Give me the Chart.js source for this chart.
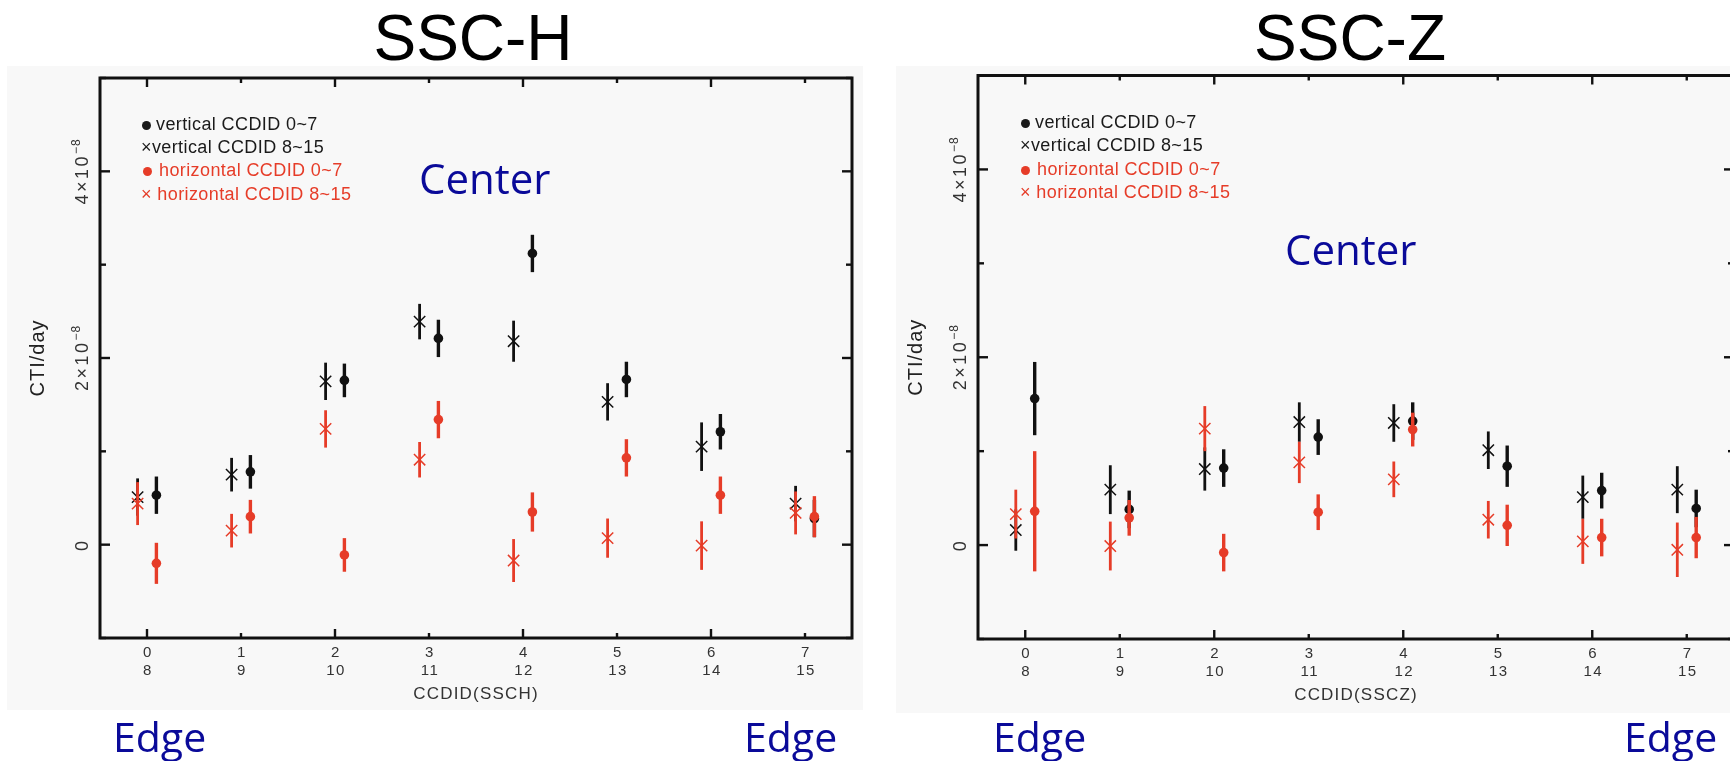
<!DOCTYPE html>
<html>
<head>
<meta charset="utf-8">
<script src="https://cdn.jsdelivr.net/npm/chart.js@4.4.1/dist/chart.umd.min.js"></script>
<style>
html, body { margin: 0; padding: 0; background: #fff; width: 1730px; height: 761px; overflow: hidden; position: relative; }
.panel { position: absolute; background: #f8f8f8; }
.panel canvas { position: absolute; left: 0; top: 0; }
.ttl { position: absolute; font-family: "Liberation Sans", Arial, sans-serif; font-size: 64px; line-height: 1; color: #000; transform: translateX(-50%); white-space: nowrap; }
.note { position: absolute; font-family: "Open Sans", sans-serif; line-height: 1; color: #0a0a99; white-space: nowrap; }
.leg { position: absolute; font-family: "Liberation Sans", Arial, sans-serif; font-size: 18px; line-height: 1; white-space: nowrap; letter-spacing: 0.4px; }
.dot { display: inline-block; width: 9px; height: 9px; border-radius: 50%; background: currentColor; margin-right: 5px; }
.blk { color: #1a1a1a; }
.red { color: #e63c28; }
</style>
</head>
<body>

<div class="ttl" style="left:473px; top:6px;">SSC-H</div>
<div class="ttl" style="left:1350px; top:6px;">SSC-Z</div>

<div class="panel" style="left:7px; top:66px; width:856px; height:644px;">
  <canvas id="chartH" width="856" height="644"></canvas>
</div>
<div class="panel" style="left:896px; top:66px; width:850px; height:647px;">
  <canvas id="chartZ" width="850" height="647"></canvas>
</div>

<!-- legends -->
<div class="leg blk" style="left:142px; top:115px;"><span class="dot"></span>vertical CCDID 0~7</div>
<div class="leg blk" style="left:141px; top:138px;">×vertical CCDID 8~15</div>
<div class="leg red" style="left:143px; top:161px;"><span class="dot" style="margin-right:7px"></span>horizontal CCDID 0~7</div>
<div class="leg red" style="left:141px; top:185px;">× horizontal CCDID 8~15</div>

<div class="leg blk" style="left:1021px; top:113px;"><span class="dot"></span>vertical CCDID 0~7</div>
<div class="leg blk" style="left:1020px; top:136px;">×vertical CCDID 8~15</div>
<div class="leg red" style="left:1021px; top:160px;"><span class="dot" style="margin-right:7px"></span>horizontal CCDID 0~7</div>
<div class="leg red" style="left:1020px; top:183px;">× horizontal CCDID 8~15</div>

<div class="note" style="left:419px; top:157px; font-size:42px;">Center</div>
<div class="note" style="left:1285px; top:228px; font-size:42px;">Center</div>
<div class="note" style="left:113px; top:716px; font-size:41px;">Edge</div>
<div class="note" style="left:744px; top:716px; font-size:41px;">Edge</div>
<div class="note" style="left:993px; top:716px; font-size:41px;">Edge</div>
<div class="note" style="left:1624px; top:716px; font-size:41px;">Edge</div>

<script>
// CCD pairs on the x axis (top row 0-7, bottom row 8-15)
const ccdPairs = [0, 1, 2, 3, 4, 5, 6, 7];
const xTickTop = ['0', '1', '2', '3', '4', '5', '6', '7'];
const xTickBottom = ['8', '9', '10', '11', '12', '13', '14', '15'];

// y axis in units of 1e-8 CTI/day
const yTickValues = [-1, 0, 1, 2, 3, 4, 5];
const yTickMain = ['', '0', '', '2×10', '', '4×10', ''];
const yTickExp = ['', '', '', '−8', '', '−8', ''];

// SSC-H
const hVert07 = [0.53, 0.78, 1.76, 2.21, 3.12, 1.77, 1.21, 0.28];
const hVert07Err = [0.20, 0.18, 0.18, 0.20, 0.20, 0.19, 0.19, 0.20];
const hVert815 = [0.51, 0.75, 1.75, 2.39, 2.18, 1.53, 1.05, 0.44];
const hVert815Err = [0.20, 0.18, 0.20, 0.19, 0.22, 0.20, 0.26, 0.19];
const hHorz07 = [-0.20, 0.30, -0.11, 1.34, 0.35, 0.93, 0.53, 0.30];
const hHorz07Err = [0.22, 0.18, 0.18, 0.20, 0.21, 0.20, 0.20, 0.22];
const hHorz815 = [0.44, 0.15, 1.24, 0.91, -0.17, 0.07, -0.01, 0.34];
const hHorz815Err = [0.23, 0.18, 0.20, 0.19, 0.23, 0.21, 0.26, 0.23];

// SSC-Z
const zVert07 = [1.56, 0.38, 0.82, 1.15, 1.32, 0.84, 0.58, 0.39];
const zVert07Err = [0.39, 0.20, 0.20, 0.19, 0.20, 0.22, 0.19, 0.20];
const zVert815 = [0.16, 0.59, 0.81, 1.31, 1.30, 1.01, 0.51, 0.59];
const zVert815Err = [0.22, 0.26, 0.23, 0.21, 0.20, 0.20, 0.23, 0.25];
const zHorz07 = [0.36, 0.29, -0.08, 0.35, 1.23, 0.21, 0.08, 0.08];
const zHorz07Err = [0.64, 0.19, 0.20, 0.19, 0.18, 0.22, 0.20, 0.22];
const zHorz815 = [0.33, -0.01, 1.24, 0.88, 0.70, 0.27, 0.04, -0.05];
const zHorz815Err = [0.26, 0.26, 0.24, 0.22, 0.19, 0.20, 0.24, 0.29];

const BLACK = '#111';
const RED = '#e63c28';
const DODGE = 0.1;   // crosses sit left of the tick, dots right

function pts(vals, errs, dodge) {
    return ccdPairs.map((c, i) => ({ x: c + dodge, y: vals[i], e: errs[i] }));
}

function dotSet(vals, errs, color, order) {
    return {
        data: pts(vals, errs, DODGE),
        pointStyle: 'circle', pointRadius: 4.8,
        pointBackgroundColor: color, pointBorderColor: color, pointBorderWidth: 0,
        errColor: color, errWidth: 3.4, order: order
    };
}

function crossSet(vals, errs, color, order) {
    return {
        data: pts(vals, errs, -DODGE),
        pointStyle: 'crossRot', pointRadius: 8,
        pointBackgroundColor: color, pointBorderColor: color, pointBorderWidth: 1.5,
        errColor: color, errWidth: 2.8, order: order
    };
}

// vertical error bars, drawn just under each dataset's markers
const errorBars = {
    id: 'errorBars',
    beforeDatasetDraw(chart, args) {
        const ds = chart.data.datasets[args.index];
        const ys = chart.scales.y;
        const ctx = chart.ctx;
        ctx.save();
        ctx.strokeStyle = ds.errColor;
        ctx.lineWidth = ds.errWidth;
        ds.data.forEach((p, i) => {
            const el = args.meta.data[i];
            ctx.beginPath();
            ctx.moveTo(el.x, ys.getPixelForValue(p.y - p.e));
            ctx.lineTo(el.x, ys.getPixelForValue(p.y + p.e));
            ctx.stroke();
        });
        ctx.restore();
    }
};

// boxed frame with inward ticks and rotated y labels
const axisDecor = {
    id: 'axisDecor',
    afterDraw(chart, args, opts) {
        const { ctx, chartArea: a, scales: { x, y } } = chart;
        const seg = (x1, y1, x2, y2) => { ctx.beginPath(); ctx.moveTo(x1, y1); ctx.lineTo(x2, y2); ctx.stroke(); };
        const font = (px) => px + 'px "Liberation Sans", Arial, sans-serif';
        ctx.save();
        ctx.strokeStyle = '#111';
        ctx.lineWidth = 3;
        ctx.strokeRect(a.left, a.top, a.right - a.left, a.bottom - a.top);

        ctx.lineWidth = 2.4;
        ccdPairs.forEach((v, i) => {
            const px = x.getPixelForValue(v);
            const len = i % 2 === 0 ? 9 : 5;
            seg(px, a.bottom, px, a.bottom - len);
            seg(px, a.top, px, a.top + len);
        });
        yTickValues.forEach((v, i) => {
            const py = y.getPixelForValue(v);
            const len = yTickMain[i] ? 10 : 6;
            seg(a.left, py, a.left + len, py);
            seg(a.right, py, a.right - len, py);
        });

        // x tick labels, two rows
        ctx.fillStyle = '#333';
        ctx.textAlign = 'center';
        ctx.textBaseline = 'alphabetic';
        ctx.font = font(15);
        ctx.letterSpacing = '1.5px';
        ccdPairs.forEach((v, i) => {
            const px = x.getPixelForValue(v) + 1;
            ctx.fillText(xTickTop[i], px, a.bottom + 19);
            ctx.fillText(xTickBottom[i], px, a.bottom + 37);
        });
        ctx.font = font(17);
        ctx.letterSpacing = '1.2px';
        ctx.fillText(opts.xTitle, (a.left + a.right) / 2, a.bottom + 61);

        // y tick labels, rotated
        ctx.textAlign = 'left';
        yTickValues.forEach((v, i) => {
            if (!yTickMain[i]) return;
            const py = y.getPixelForValue(v);
            ctx.save();
            ctx.translate(a.left - 12.5, py);
            ctx.rotate(-Math.PI / 2);
            ctx.font = font(18);
            ctx.letterSpacing = '2.5px';
            const w1 = ctx.measureText(yTickMain[i]).width;
            ctx.font = font(12);
            ctx.letterSpacing = '1px';
            const w2 = yTickExp[i] ? ctx.measureText(yTickExp[i]).width : 0;
            const sx = -(w1 + w2) / 2;
            ctx.font = font(18);
            ctx.letterSpacing = '2.5px';
            ctx.fillText(yTickMain[i], sx, 0);
            if (yTickExp[i]) {
                ctx.font = font(12);
                ctx.letterSpacing = '1px';
                ctx.fillText(yTickExp[i], sx + w1, -8);
            }
            ctx.restore();
        });

        // y title
        ctx.save();
        ctx.translate(a.left - 56, (a.top + a.bottom) / 2);
        ctx.rotate(-Math.PI / 2);
        ctx.textAlign = 'center';
        ctx.fillStyle = '#222';
        ctx.font = font(20);
        ctx.letterSpacing = '1px';
        ctx.fillText('CTI/day', 0, 0);
        ctx.restore();

        ctx.restore();
    }
};

function makePanel(canvasId, sets, padding, xTitle) {
    new Chart(document.getElementById(canvasId), {
        type: 'scatter',
        data: {
            datasets: [
                dotSet(sets.h07, sets.h07e, RED, 1),
                crossSet(sets.h815, sets.h815e, RED, 1),
                dotSet(sets.v07, sets.v07e, BLACK, 2),
                crossSet(sets.v815, sets.v815e, BLACK, 2)
            ]
        },
        options: {
            responsive: false,
            animation: false,
            events: [],
            layout: { padding: padding },
            scales: {
                x: { type: 'linear', min: -0.5, max: 7.5, display: false },
                y: { type: 'linear', min: -1, max: 5, display: false }
            },
            plugins: {
                legend: { display: false },
                tooltip: { enabled: false },
                axisDecor: { xTitle: xTitle }
            }
        },
        plugins: [errorBars, axisDecor]
    });
}

makePanel('chartH', {
    v07: hVert07, v07e: hVert07Err, v815: hVert815, v815e: hVert815Err,
    h07: hHorz07, h07e: hHorz07Err, h815: hHorz815, h815e: hHorz815Err
}, { left: 93, top: 12, right: 11, bottom: 72 }, 'CCDID(SSCH)');

makePanel('chartZ', {
    v07: zVert07, v07e: zVert07Err, v815: zVert815, v815e: zVert815Err,
    h07: zHorz07, h07e: zHorz07Err, h815: zHorz815, h815e: zHorz815Err
}, { left: 82, top: 9, right: 12, bottom: 74 }, 'CCDID(SSCZ)');
</script>
</body>
</html>
